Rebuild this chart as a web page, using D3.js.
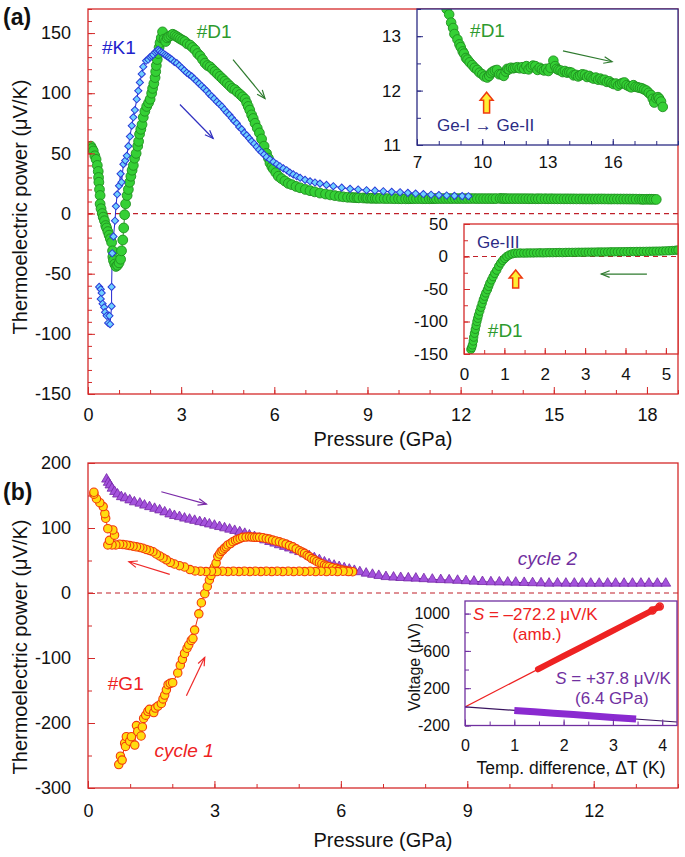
<!DOCTYPE html>
<html><head><meta charset="utf-8">
<script src="https://cdn.jsdelivr.net/npm/d3@7"></script>
<style>body{margin:0;background:#fff}</style>
</head><body><script>
// ---------------- DATA ----------------
// Panel (a): sample #D1 (compression), [pressure GPa, S µV/K]
const d1 = [[0.09,56],[0.13,54],[0.17,52],[0.22,48],[0.26,45],[0.30,40],[0.33,35],[0.34,30],[0.35,26],[0.37,20],[0.39,15],[0.39,8],[0.42,4],[0.46,0],[0.49,-3],[0.53,-6],[0.57,-10],[0.60,-12],[0.64,-15],[0.68,-18],[0.72,-21],[0.76,-24],[0.79,-31],[0.80,-36],[0.82,-39],[0.86,-42],[0.90,-44],[0.95,-43],[1.00,-41],[1.05,-38],[1.08,-31],[1.12,-22],[1.15,-12],[1.18,-1],[1.21,8],[1.26,15],[1.30,20],[1.34,26],[1.38,31],[1.42,36],[1.46,40],[1.50,46],[1.55,50],[1.60,56],[1.63,60],[1.66,66],[1.70,70],[1.74,74],[1.78,80],[1.83,85],[1.89,89],[1.95,92],[2.00,95],[2.05,100],[2.08,104],[2.12,108],[2.16,113],[2.18,118],[2.20,123],[2.23,128],[2.26,133],[2.29,138],[2.32,142],[2.36,146],[2.40,151],[2.45,145],[2.50,143],[2.55,146],[2.60,147],[2.67,148],[2.73,149],[2.80,148],[2.86,147],[2.92,146],[2.98,145],[3.05,144],[3.12,143],[3.20,141],[3.29,140],[3.37,138],[3.45,136],[3.53,133],[3.61,131],[3.69,128],[3.77,125],[3.85,123],[3.93,122],[4.01,120],[4.09,118],[4.17,116],[4.25,114],[4.33,112],[4.41,110],[4.49,108],[4.57,106],[4.65,104],[4.73,103],[4.81,101],[4.90,99],[4.98,97],[5.06,95],[5.11,92],[5.16,89],[5.21,86],[5.27,82],[5.32,79],[5.38,75],[5.45,71],[5.52,67],[5.59,62],[5.67,56],[5.75,50],[5.81,46],[5.86,42],[5.92,39],[5.97,37],[6.05,34],[6.13,31],[6.23,29],[6.34,27],[6.45,25],[6.56,24],[6.70,22.5],[6.83,21.4],[7.00,20],[7.15,19],[7.30,18],[7.47,17],[7.65,16.2],[7.80,15.5],[7.95,14.9],[8.10,14.3],[8.22,13.9],[8.36,13.5],[8.48,13.4],[8.57,13.25],[8.66,13.15],[8.72,13.04],[8.86,12.94],[8.95,12.85],[9.01,12.8],[9.10,12.72],[9.16,12.68],[9.25,12.6],[9.32,12.57],[9.42,12.52],[9.54,12.47],[9.65,12.42],[9.77,12.38],[9.88,12.33],[10.0,12.3],[10.1,12.26],[10.23,12.24],[10.32,12.27],[10.4,12.32],[10.48,12.35],[10.58,12.37],[10.68,12.38],[10.78,12.3],[10.88,12.3],[10.99,12.27],[11.08,12.35],[11.15,12.4],[11.22,12.39],[11.32,12.42],[11.42,12.41],[11.52,12.42],[11.62,12.43],[11.72,12.41],[11.83,12.43],[11.93,12.40],[12.03,12.45],[12.13,12.39],[12.23,12.43],[12.33,12.46],[12.44,12.45],[12.54,12.38],[12.64,12.42],[12.74,12.39],[12.84,12.37],[12.94,12.40],[13.04,12.36],[13.14,12.42],[13.27,12.55],[13.35,12.45],[13.42,12.40],[13.5,12.38],[13.6,12.37],[13.7,12.34],[13.8,12.36],[13.9,12.33],[14.0,12.34],[14.1,12.33],[14.2,12.28],[14.3,12.29],[14.41,12.26],[14.5,12.28],[14.6,12.30],[14.72,12.29],[14.82,12.25],[14.92,12.27],[15.02,12.24],[15.12,12.22],[15.22,12.24],[15.33,12.2],[15.43,12.22],[15.53,12.19],[15.63,12.2],[15.73,12.16],[15.84,12.17],[15.94,12.14],[16.04,12.12],[16.14,12.13],[16.24,12.09],[16.34,12.12],[16.44,12.14],[16.54,12.15],[16.64,12.1],[16.75,12.08],[16.85,12.06],[16.95,12.1],[17.05,12.07],[17.15,12.06],[17.25,12.05],[17.35,12.04],[17.45,12.02],[17.55,12.0],[17.65,11.96],[17.76,11.92],[17.84,11.85],[17.91,11.78],[18.0,11.86],[18.08,11.88],[18.14,11.85],[18.22,11.80],[18.3,11.70]];

// Panel (a): sample #K1
const k1 = [[0.36,-61],[0.41,-63],[0.44,-66],[0.41,-71],[0.47,-75],[0.52,-78],[0.55,-82],[0.60,-85],[0.69,-85],[0.65,-91],[0.71,-92],[0.76,-77],[0.76,-61],[0.78,-33],[0.82,-19],[0.87,-6],[0.90,6],[0.94,16],[1.00,23],[1.05,33],[1.08,26],[1.14,41],[1.20,44],[1.25,48],[1.30,56],[1.35,64],[1.41,73],[1.46,80],[1.51,86],[1.57,95],[1.62,102],[1.67,109],[1.73,116],[1.78,122],[1.87,127],[1.94,128],[2.00,130],[2.05,131],[2.10,132],[2.16,134],[2.21,135],[2.26,136],[2.31,135],[2.37,134],[2.42,133],[2.48,132],[2.53,131],[2.59,130],[2.64,129],[2.70,128],[2.78,126],[2.86,125],[2.94,123],[3.02,121],[3.10,119],[3.18,117],[3.26,115.5],[3.34,114],[3.42,112],[3.50,110],[3.58,108],[3.66,106],[3.74,104],[3.82,102],[3.90,99.5],[3.98,97.5],[4.06,95.5],[4.15,93],[4.23,91],[4.31,89],[4.39,86.5],[4.47,84],[4.55,82],[4.63,79.5],[4.71,77],[4.79,75],[4.87,72],[4.95,70],[5.03,67],[5.11,65],[5.19,62.5],[5.27,60],[5.35,58],[5.43,55.5],[5.51,53],[5.59,51],[5.67,49],[5.75,47],[5.86,45],[5.97,43],[6.08,41],[6.18,39.3],[6.29,37.5],[6.40,36],[6.50,34],[6.61,32.5],[6.72,31],[6.83,29.7],[6.99,28],[7.15,26.8],[7.31,25.8],[7.47,24.9],[7.68,23.8],[7.90,22.7],[8.17,21.5],[8.44,20.5],[8.70,20],[8.97,19.4],[9.24,19],[9.51,18.5],[9.78,18],[10.05,17.7],[10.3,17.2],[10.55,16.6],[10.8,16.2],[11.05,15.6],[11.3,15.3],[11.55,15],[11.8,14.7],[12.05,14.5],[12.25,14.4]];

// Lower inset of (a): #D1 on decompression
const d1dec = [[0.17,-143],[0.19,-140],[0.21,-136],[0.23,-130],[0.24,-124],[0.26,-118],[0.28,-112],[0.30,-106],[0.32,-100],[0.34,-95],[0.36,-90],[0.39,-84],[0.42,-78],[0.45,-72],[0.48,-66],[0.51,-61],[0.54,-56],[0.58,-51],[0.61,-46],[0.64,-41],[0.68,-36],[0.72,-31],[0.76,-26],[0.81,-21],[0.86,-15],[0.91,-10],[0.96,-6],[1.01,-3],[1.06,0],[1.12,2.3],[1.19,4],[1.26,5],[1.33,5.2],[1.40,5.3],[1.48,5.2],[1.56,5.4],[1.64,5.5],[1.72,5.5],[1.80,5.6],[1.88,5.7],[1.96,5.6],[2.04,5.8],[2.12,5.9],[2.20,5.9],[2.28,6.0],[2.36,6.1],[2.44,6.0],[2.52,6.2],[2.60,6.3],[2.68,6.3],[2.76,6.4],[2.84,6.5],[2.92,6.5],[3.00,6.6],[3.08,6.7],[3.16,6.8],[3.24,6.8],[3.32,6.9],[3.40,7.0],[3.48,7.0],[3.56,7.1],[3.64,7.2],[3.72,7.2],[3.80,7.3],[3.88,7.4],[3.96,7.4],[4.04,7.5],[4.12,7.6],[4.20,7.6],[4.28,7.7],[4.36,7.8],[4.44,7.8],[4.52,7.9],[4.60,8.0],[4.68,8.1],[4.76,8.2],[4.84,8.3],[4.92,8.5],[5.00,8.7],[5.08,8.9],[5.16,9.2],[5.24,9.6],[5.30,10]];

// Panel (b): sample #G1, cycle 1 (compression then decompression)
const g1 = [[0.73,-264],[0.77,-251],[0.81,-257],[0.87,-231],[0.89,-236],[0.91,-221],[0.99,-228],[1.03,-221],[1.11,-234],[1.15,-204],[1.18,-213],[1.26,-220],[1.29,-206],[1.32,-193],[1.37,-188],[1.42,-182],[1.46,-179],[1.56,-184],[1.60,-177],[1.66,-174],[1.74,-170],[1.78,-163],[1.82,-157],[1.86,-149],[1.90,-141],[1.95,-139],[2.01,-138],[2.13,-123],[2.19,-111],[2.24,-102],[2.29,-93],[2.35,-85],[2.39,-80],[2.45,-73],[2.49,-70],[2.53,-57],[2.63,-32],[2.69,-15],[2.77,-1],[2.83,10],[2.88,20],[2.92,27],[2.96,34],[3.00,40],[3.04,46],[3.08,56],[3.12,60],[3.16,64],[3.20,66],[3.24,69],[3.28,71],[3.32,74],[3.38,76],[3.44,79],[3.50,81],[3.55,82.5],[3.61,84],[3.67,85.6],[3.75,86],[3.83,86.5],[3.89,86],[3.95,85.6],[4.01,85.6],[4.07,85.6],[4.15,85],[4.23,84],[4.30,83],[4.38,81.4],[4.46,80],[4.54,78.8],[4.62,77],[4.70,75.3],[4.78,73],[4.86,71],[4.94,68],[5.02,65],[5.08,63],[5.14,61],[5.20,58],[5.25,56],[5.31,53],[5.37,51],[5.43,48.5],[5.49,46.6],[5.55,45],[5.61,43],[5.66,41.5],[5.72,40.4],[5.80,39],[5.89,38],[5.96,36.5],[6.04,35.3],[6.12,34.3],[6.20,33.5],[6.28,32.7],
  [6.18,33],[6.05,33.5],[5.92,33],[5.79,33.5],[5.66,33],[5.53,33.5],[5.40,33],[5.27,33.5],[5.14,33],[5.01,33.5],[4.88,33],[4.75,33.5],[4.62,33],[4.49,33.5],[4.36,33],[4.23,33.5],[4.10,33],[3.97,33.5],[3.84,33],[3.71,33.5],[3.58,33],[3.45,33.5],[3.32,33],[3.19,33.5],[3.06,33],[2.93,33.5],[2.80,33],[2.67,33.5],[2.54,34],[2.42,36],[2.29,40],[2.17,42],[2.05,44.6],[1.95,47],[1.86,51],[1.78,54],[1.70,57],[1.62,60],[1.54,63.5],[1.46,65.5],[1.38,67],[1.30,69],[1.23,70],[1.15,71],[1.07,72],[0.99,73],[0.91,74],[0.83,74.5],[0.75,75],[0.66,74],[0.57,74],[0.47,74],[0.51,81],[0.63,89],[0.59,97],[0.47,99],[0.42,115],[0.40,122],[0.36,133],[0.28,139],[0.20,145],[0.14,152],[0.14,155]];

// Panel (b): cycle 2
const cyc2 = [[0.44,175],[0.48,170],[0.52,166],[0.57,161],[0.63,156],[0.70,152],[0.79,148],[0.88,146],[0.99,143],[1.10,140],[1.23,138],[1.34,135],[1.46,132.6],[1.58,130],[1.70,127.6],[1.82,124.5],[1.94,121.4],[2.05,119],[2.17,117.3],[2.29,115],[2.41,113.3],[2.53,111.5],[2.65,109.6],[2.77,108],[2.88,106],[3.00,104],[3.12,102],[3.24,100],[3.36,98],[3.48,96],[3.60,94],[3.72,91.5],[3.83,89],[3.95,86.5],[4.07,84],[4.19,81.5],[4.31,79],[4.43,76.5],[4.54,74],[4.66,71.5],[4.78,69],[4.90,66],[5.02,63.5],[5.14,60],[5.25,57],[5.37,54],[5.49,51],[5.61,47.5],[5.72,44.6],[5.84,42.5],[5.96,40.4],[6.08,38.4],[6.20,36.4],[6.32,34.5],[6.45,32.5],[6.60,30.3],[6.75,28.5],[6.90,26.8],[7.07,25],[7.25,24.2],[7.42,23.6],[7.60,23],[7.78,22.6],[7.97,21.8],[8.17,21],[8.37,20.4],[8.57,20],[8.77,19.3],[8.97,18.7],[9.16,18],[9.36,17.4],[9.56,17],[9.76,16.8],[9.96,16.6],[10.15,16.4],[10.35,16],[10.55,15.6],[10.75,15.3],[10.94,14.9],[11.14,15],[11.34,14.9],[11.54,14.9],[11.73,14.9],[11.93,14.8],[12.13,14.8],[12.33,14.9],[12.52,14.9],[12.72,14.8],[12.92,14.8],[13.12,14.9],[13.31,14.9],[13.51,14.8],[13.71,14.9]];

// Inset of (b): voltage vs temperature difference
const vAmb = [[1.48,403],[1.7,463],[2.0,545],[2.3,626],[2.6,708],[2.9,789],[3.2,871],[3.5,953],[3.8,1034],[3.95,1075]];
const v64 = [[1.0,-38],[1.4,-53],[1.8,-68],[2.2,-83],[2.6,-98],[3.0,-113],[3.47,-131]];
const fitSlopes = [272.2, -37.8];   // µV/K (sign as plotted)
const fitRanges = [[0,3.95],[0,4.3]];

// tick labels
const aXTicks = [0,3,6,9,12,15,18], aYTicks = [-150,-100,-50,0,50,100,150];
const bXTicks = [0,3,6,9,12], bYTicks = [-300,-200,-100,0,100,200];
const i1XTicks = [7,10,13,16], i1YTicks = [11,12,13];
const i2XTicks = [0,1,2,3,4,5], i2YTicks = [-150,-100,-50,0,50];
const i3XTicks = [0,1,2,3,4], i3YTicks = [-200,200,600,1000];

// ---------------- DRAWING ----------------
const FONT = '"Liberation Sans", Arial, Helvetica, sans-serif';
const svg = d3.select("body").append("svg").attr("width",685).attr("height",857)
  .style("font-family",FONT);

const RED="#d42a2a", NAVY="#2b2b84", PURP="#7030a0";

function drawAxes(g, x, y, o){
  const [xl,xr]=x.range(), [yb,yt]=y.range();
  const fmt=d=>String(d);
  const parts=[];
  parts.push(g.append("g").attr("transform",`translate(0,${yb})`)
    .call(d3.axisBottom(x).tickValues(o.xMinor).tickSize(-o.ml).tickFormat("")));
  parts.push(g.append("g").attr("transform",`translate(${xl},0)`)
    .call(d3.axisLeft(y).tickValues(o.yMinor).tickSize(-o.ml).tickFormat("")));
  parts.push(g.append("g").attr("transform",`translate(0,${yb})`)
    .call(d3.axisBottom(x).tickValues(o.xMajor).tickSize(-o.tl).tickPadding(o.xPad).tickFormat(fmt)));
  parts.push(g.append("g").attr("transform",`translate(${xl},0)`)
    .call(d3.axisLeft(y).tickValues(o.yMajor).tickSize(-o.tl).tickPadding(o.yPad).tickFormat(fmt)));
  parts.forEach(a=>{
    a.select(".domain").remove();
    a.selectAll("line").attr("stroke",o.color).attr("stroke-width",1);
    a.selectAll("text").attr("fill","#111").style("font-size",o.fs+"px").style("font-family",FONT);
  });
  g.append("rect").attr("x",xl).attr("y",yt).attr("width",xr-xl).attr("height",yb-yt)
    .attr("fill","none").attr("stroke",o.color).attr("stroke-width",o.sw||1.3);
}
function minor(a,b,s){return d3.range(a,b+s/2,s);}

function arrow(g,x1,y1,x2,y2,color){
  g.append("line").attr("x1",x1).attr("y1",y1).attr("x2",x2).attr("y2",y2)
    .attr("stroke",color).attr("stroke-width",1.2);
  const ang=Math.atan2(y2-y1,x2-x1), L=9, a=0.38;
  g.append("path").attr("d",`M${x2-L*Math.cos(ang-a)},${y2-L*Math.sin(ang-a)}L${x2},${y2}L${x2-L*Math.cos(ang+a)},${y2-L*Math.sin(ang+a)}`)
    .attr("fill","none").attr("stroke",color).attr("stroke-width",1.2);
}
function blockArrow(g,cx,yTop,yBot){
  const hw=6.5, sw=3, hh=8;
  g.append("path").attr("d",`M${cx},${yTop}L${cx+hw},${yTop+hh}L${cx+sw},${yTop+hh}L${cx+sw},${yBot}L${cx-sw},${yBot}L${cx-sw},${yTop+hh}L${cx-hw},${yTop+hh}Z`)
    .attr("fill","#ffee33").attr("stroke","#ee3a10").attr("stroke-width",1.5).attr("stroke-linejoin","miter");
}
function label(g,x,y,txt,o){
  const t=g.append("text").attr("x",x).attr("y",y).attr("fill",o.color||"#111")
    .style("font-size",(o.fs||18)+"px").attr("text-anchor",o.anchor||"start");
  if(o.italic) t.style("font-style","italic");
  if(o.bold) t.style("font-weight","bold");
  t.text(txt);
  return t;
}
const defs=svg.append("defs");
function clip(id,x,y){
  defs.append("clipPath").attr("id",id).append("rect")
    .attr("x",x.range()[0]).attr("y",y.range()[1])
    .attr("width",x.range()[1]-x.range()[0]).attr("height",y.range()[0]-y.range()[1]);
  return `url(#${id})`;
}

// ===== Panel (a) =====
const ax = d3.scaleLinear().domain([0,19]).range([88,678]);
const ay = d3.scaleLinear().domain([-150,170]).range([394,9]);
const ga = svg.append("g");
ga.append("line").attr("x1",ax(0)).attr("x2",ax(19)).attr("y1",ay(0)).attr("y2",ay(0))
  .attr("stroke","#c0202a").attr("stroke-width",1.2).attr("stroke-dasharray","5,4");
const ca = clip("ca",ax,ay);
const pa = ga.append("g").attr("clip-path",ca);
const lineA = d3.line().x(d=>ax(d[0])).y(d=>ay(d[1]));
pa.append("path").attr("d",lineA(d1)).attr("fill","none").attr("stroke","#238a23").attr("stroke-width",1);
pa.append("path").attr("d",lineA(k1)).attr("fill","none").attr("stroke","#2424d0").attr("stroke-width",1);
pa.selectAll(".d1").data(d1).join("circle").attr("cx",d=>ax(d[0])).attr("cy",d=>ay(d[1])).attr("r",4.9)
  .attr("fill","#35d035").attr("stroke","#1f901f").attr("stroke-width",0.9);
pa.selectAll(".k1").data(k1).join("path").attr("d",d3.symbol(d3.symbolSquare,26)())
  .attr("transform",d=>`translate(${ax(d[0])},${ay(d[1])}) rotate(45)`)
  .attr("fill","#6fd0ff").attr("stroke","#2a3ad8").attr("stroke-width",1);
drawAxes(ga,ax,ay,{color:RED,xMajor:aXTicks,xMinor:minor(0,19,1),yMajor:aYTicks,yMinor:minor(-150,170,10),tl:7,ml:4,xPad:14,yPad:17,fs:18});
label(ga,ax(0.45),ay(133),"#K1",{color:"#2222cc",fs:19});
label(ga,ax(3.5),ay(146),"#D1",{color:"#2e9a2e",fs:19});
arrow(ga,ax(2.96),ay(90.6),ax(4.03),ay(62.4),"#3030c0");
arrow(ga,ax(4.67),ay(128),ax(5.70),ay(95.6),"#2e7a2e");
label(svg,3,25,"(a)",{fs:23,bold:true});
svg.append("text").attr("transform",`translate(27,207) rotate(-90)`).attr("text-anchor","middle")
  .style("font-size","20px").attr("fill","#111").text("Thermoelectric power (μV/K)");
label(svg,(ax(0)+ax(19))/2,446,"Pressure (GPa)",{fs:20,anchor:"middle"});

// inset 1
const i1x = d3.scaleLinear().domain([7,19]).range([417,678]);
const i1y = d3.scaleLinear().domain([11,13.5]).range([145,9]);
const g1i = svg.append("g");
g1i.append("rect").attr("x",417).attr("y",9).attr("width",261).attr("height",136).attr("fill","#fff");
const p1 = g1i.append("g").attr("clip-path",clip("c1",i1x,i1y));
p1.selectAll("circle").data(d1.filter(d=>d[0]>=7)).join("circle").attr("cx",d=>i1x(d[0])).attr("cy",d=>i1y(d[1])).attr("r",4.8)
  .attr("fill","#35d035").attr("stroke","#1f901f").attr("stroke-width",0.9);
drawAxes(g1i,i1x,i1y,{color:NAVY,xMajor:i1XTicks,xMinor:minor(7,19,1),yMajor:i1YTicks,yMinor:minor(11,13.5,0.5),tl:6,ml:4,xPad:11,yPad:16,fs:17});
label(g1i,i1x(9.44),i1y(12.99),"#D1",{color:"#2e9a2e",fs:19});
label(g1i,i1x(7.92),i1y(11.26),"Ge-I \u2192 Ge-II",{color:NAVY,fs:17});
arrow(g1i,i1x(13.71),i1y(12.73),i1x(15.97),i1y(12.53),"#2e7a2e");
blockArrow(g1i,i1x(10.2),i1y(11.97),i1y(11.59));

// inset 2
const i2x = d3.scaleLinear().domain([0,5.3]).range([464,678]);
const i2y = d3.scaleLinear().domain([-150,50]).range([354,224]);
const g2i = svg.append("g");
g2i.append("rect").attr("x",464).attr("y",224).attr("width",214).attr("height",130).attr("fill","#fff");
g2i.append("line").attr("x1",i2x(0)).attr("x2",i2x(5.3)).attr("y1",i2y(0)).attr("y2",i2y(0))
  .attr("stroke","#c0202a").attr("stroke-width",1.2).attr("stroke-dasharray","5,4");
const p2 = g2i.append("g").attr("clip-path",clip("c2",i2x,i2y));
p2.selectAll("circle").data(d1dec).join("circle").attr("cx",d=>i2x(d[0])).attr("cy",d=>i2y(d[1])).attr("r",4.2)
  .attr("fill","#35d035").attr("stroke","#1f901f").attr("stroke-width",0.9);
drawAxes(g2i,i2x,i2y,{color:RED,xMajor:i2XTicks,xMinor:minor(0,5.3,0.5),yMajor:i2YTicks,yMinor:minor(-150,50,25),tl:6,ml:4,xPad:14,yPad:16,fs:17});
label(g2i,i2x(0.32),i2y(13),"Ge-III",{color:NAVY,fs:17});
label(g2i,i2x(0.59),i2y(-124),"#D1",{color:"#2e9a2e",fs:19});
arrow(g2i,i2x(4.53),i2y(-27),i2x(3.40),i2y(-27),"#2e7a2e");
blockArrow(g2i,i2x(1.28),i2y(-20.8),i2y(-48.5));

// ===== Panel (b) =====
const bx = d3.scaleLinear().domain([0,14]).range([88,678]);
const by = d3.scaleLinear().domain([-300,200]).range([788,463]);
const gb = svg.append("g");
gb.append("line").attr("x1",bx(0)).attr("x2",bx(14)).attr("y1",by(0)).attr("y2",by(0))
  .attr("stroke","#c0202a").attr("stroke-width",1.2).attr("stroke-dasharray","5,4");
const pb = gb.append("g").attr("clip-path",clip("cb",bx,by));
const lineB = d3.line().x(d=>bx(d[0])).y(d=>by(d[1]));
pb.append("path").attr("d",lineB(cyc2)).attr("fill","none").attr("stroke","#7a2aa8").attr("stroke-width",1);
pb.selectAll(".c2").data(cyc2).join("path").attr("d",d3.symbol(d3.symbolTriangle,42)())
  .attr("transform",d=>`translate(${bx(d[0])},${by(d[1])})`)
  .attr("fill","#a452dc").attr("stroke","#7426a6").attr("stroke-width",0.8);
pb.append("path").attr("d",lineB(g1)).attr("fill","none").attr("stroke","#ee2a10").attr("stroke-width",1);
pb.selectAll(".g1").data(g1).join("circle").attr("cx",d=>bx(d[0])).attr("cy",d=>by(d[1])).attr("r",4.2)
  .attr("fill","#ffdc10").attr("stroke","#f23a0c").attr("stroke-width",1.1);
drawAxes(gb,bx,by,{color:RED,xMajor:bXTicks,xMinor:minor(0,14,1),yMajor:bYTicks,yMinor:minor(-300,200,50),tl:7,ml:4,xPad:16,yPad:17,fs:18});
label(gb,bx(0.47),by(-149),"#G1",{color:"#ee2222",fs:19});
label(gb,bx(1.58),by(-253),"cycle 1",{color:"#ee2222",fs:19,italic:true});
label(gb,bx(10.2),by(43),"cycle 2",{color:PURP,fs:19,italic:true});
arrow(gb,bx(2.335),by(-158),bx(2.77),by(-99),"#ee2a2a");
arrow(gb,bx(1.94),by(28.7),bx(0.97),by(48.1),"#ee2a2a");
arrow(gb,bx(1.74),by(155.7),bx(2.81),by(136.8),"#7a2aa8");
label(svg,3,500,"(b)",{fs:23,bold:true});
svg.append("text").attr("transform",`translate(27,647) rotate(-90)`).attr("text-anchor","middle")
  .style("font-size","20px").attr("fill","#111").text("Thermoelectric power (μV/K)");
label(svg,(bx(0)+bx(14))/2,847,"Pressure (GPa)",{fs:20,anchor:"middle"});

// inset 3
const i3x = d3.scaleLinear().domain([0,4.3]).range([465,677]);
const i3y = d3.scaleLinear().domain([-200,1135]).range([725.5,601]);
const g3i = svg.append("g");
g3i.append("rect").attr("x",465).attr("y",601).attr("width",212).attr("height",124.5).attr("fill","#fff");
const p3 = g3i.append("g").attr("clip-path",clip("c3",i3x,i3y));
const fitColors=["#ee2222","#3a1560"];
fitSlopes.forEach((s,i)=>{
  const r=fitRanges[i];
  p3.append("line").attr("x1",i3x(r[0])).attr("y1",i3y(s*r[0])).attr("x2",i3x(r[1])).attr("y2",i3y(s*r[1]))
    .attr("stroke",fitColors[i]).attr("stroke-width",1.2);
});
const lineV = d3.line().x(d=>i3x(d[0])).y(d=>i3y(d[1]));
p3.append("path").attr("d",lineV(vAmb)).attr("fill","none").attr("stroke","#ee2222").attr("stroke-width",6).attr("stroke-linecap","round");
p3.append("path").attr("d",lineV(v64)).attr("fill","none").attr("stroke","#8a2ad0").attr("stroke-width",7).attr("stroke-linecap","butt");
p3.selectAll("circle").data(vAmb.slice(-2)).join("circle").attr("cx",d=>i3x(d[0])).attr("cy",d=>i3y(d[1])).attr("r",3.5)
  .attr("fill","none").attr("stroke","#ee2222").attr("stroke-width",1.5);
drawAxes(g3i,i3x,i3y,{color:PURP,xMajor:i3XTicks,xMinor:minor(0,4.3,0.5),yMajor:i3YTicks,yMinor:minor(-200,1100,200),tl:6,ml:4,xPad:14,yPad:15,fs:16});
const t1=label(g3i,i3x(0.16),i3y(928),"",{color:"#ee2222",fs:17});
t1.append("tspan").style("font-style","italic").text("S");
t1.append("tspan").text(" = \u2013272.2 μV/K");
label(g3i,i3x(1.46),i3y(720),"(amb.)",{color:"#ee2222",fs:17,anchor:"middle"});
const t2=label(g3i,i3x(1.83),i3y(240),"",{color:PURP,fs:17});
t2.append("tspan").style("font-style","italic").text("S");
t2.append("tspan").text(" = +37.8 μV/K");
label(g3i,i3x(2.98),i3y(26),"(6.4 GPa)",{color:PURP,fs:17,anchor:"middle"});
svg.append("text").attr("transform",`translate(420,667) rotate(-90)`).attr("text-anchor","middle")
  .style("font-size","16px").attr("fill","#111").text("Voltage (μV)");
label(svg,(i3x(0)+i3x(4.3))/2,774,"Temp. difference, \u0394T (K)",{fs:17.5,anchor:"middle"});
</script></body></html>
